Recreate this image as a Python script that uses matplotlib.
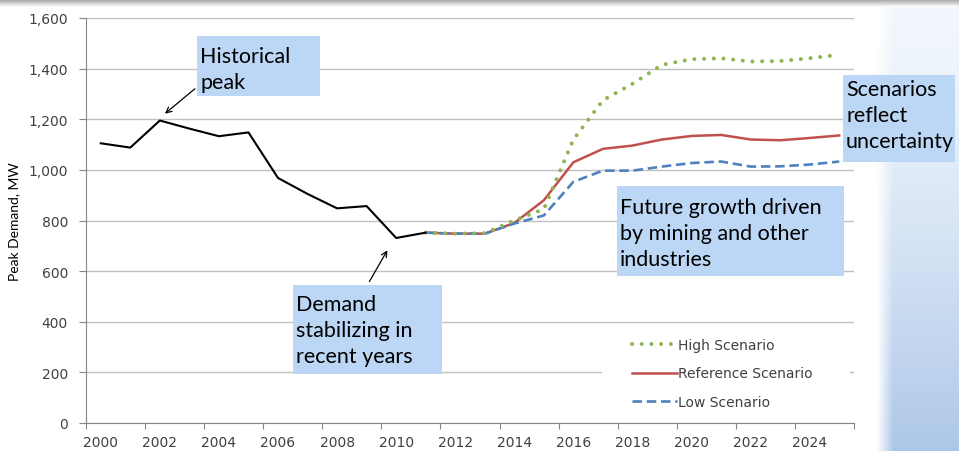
import numpy as np
import matplotlib.pyplot as plt
from matplotlib.patches import Rectangle
from matplotlib.ticker import FuncFormatter

# Данные
years_hist = list(range(2000, 2012))
hist_demand = [1105, 1088, 1195, 1163, 1133, 1148, 968, 905, 848, 857, 731, 752]

years_scen = list(range(2011, 2026))
ref_scen = [752, 748, 748, 790, 880, 1030, 1083, 1096, 1120, 1134, 1138, 1120, 1117, 1126, 1136]
low_scen = [752, 748, 748, 788, 820, 953, 997, 997, 1013, 1027, 1033, 1013, 1014, 1021, 1033]
high_scen = [752, 748, 750, 800, 845, 1120, 1275, 1340, 1415, 1437, 1441, 1428, 1430, 1441, 1455]

series_labels = ['High Scenario', 'Reference Scenario', 'Low Scenario']

W, H = 959, 452


def fx(px):
    return px / W


def fy(py):
    return 1 - py / H


fig = plt.figure(figsize=(W / 100, H / 100), dpi=100)
fig.patch.set_facecolor('white')

# фон справа (небо)
sky = fig.add_axes([fx(876), 0, 83 / W, 1], zorder=-2)
gv = np.linspace(0, 1, 200)[:, None, None] ** 1.4
gh = np.clip(np.linspace(0, 1, 40)[None, :, None] * 5, 0, 1)
top_c = np.array([0.95, 0.97, 0.99])
bot_c = np.array([0.68, 0.78, 0.91])
img = top_c * (1 - gv) + bot_c * gv
img = 1 - (1 - img) * gh
sky.imshow(img, aspect='auto', extent=[0, 1, 0, 1])
sky.axis('off')

# тень сверху
shade = fig.add_axes([0, fy(8), 1, 8 / H], zorder=-1)
g2 = np.linspace(0.62, 1.0, 50)[:, None]
shade.imshow(np.repeat(np.dstack([g2, g2, g2]), 10, axis=1), aspect='auto', extent=[0, 1, 0, 1])
shade.axis('off')

ax = fig.add_axes([fx(86), fy(424), (854 - 86) / W, (424 - 19) / H])
ax.set_facecolor('none')

ax.plot(years_scen, ref_scen, color='#C0504D', lw=1.8, label=series_labels[1], zorder=3)
ax.plot(years_scen, low_scen, color='#4F81BD', lw=1.9, linestyle=(0, (3.6, 1.8)),
        label=series_labels[2], zorder=4)
ax.plot(years_scen, high_scen, color='#8FB650', lw=2.9, linestyle=(0, (0.01, 2.4)),
        dash_capstyle='round', label=series_labels[0], zorder=5)
ax.plot(years_hist, hist_demand, color='black', lw=1.5, zorder=6)

ax.set_xlim(1999.5, 2025.5)
ax.set_ylim(0, 1600)
ax.set_yticks(range(0, 1601, 200))
ax.yaxis.set_major_formatter(FuncFormatter(lambda v, p: f'{int(v):,}'))
ax.set_xticks(np.arange(1999.5, 2026, 2))
ax.set_xticks(range(2000, 2026, 2), minor=True)
ax.set_xticklabels([])
ax.set_xticklabels([str(y) for y in range(2000, 2026, 2)], minor=True)
ax.tick_params(axis='x', which='minor', length=0, pad=9, labelsize=10, labelcolor='#404040')
ax.tick_params(axis='x', which='major', length=4, color='#868686')
ax.tick_params(axis='y', length=5, color='#868686', pad=8, labelsize=10, labelcolor='#404040')

for s in ['top', 'right']:
    ax.spines[s].set_visible(False)
for s in ['left', 'bottom']:
    ax.spines[s].set_color('#868686')
ax.grid(axis='y', color='#C0C0C0', lw=1)
ax.set_axisbelow(True)

ax.set_ylabel('Peak Demand, MW', fontsize=10, family='Lato', color='black')
ax.yaxis.set_label_coords(-0.086, 0.5)

# легенда
ax.add_patch(Rectangle((fx(602), fy(418)), (850 - 602) / W, (418 - 330) / H,
                       transform=fig.transFigure, facecolor='white', edgecolor='none', zorder=1.5))
handles, labels = ax.get_legend_handles_labels()
order = [labels.index(l) for l in series_labels]
leg = ax.legend([handles[i] for i in order], [labels[i] for i in order],
                loc='center left', bbox_to_anchor=(fx(619), fy(374.5)),
                bbox_transform=fig.transFigure, frameon=False, fontsize=10,
                handlelength=3.3, handletextpad=0.05, labelspacing=1.05)
for t in leg.get_texts():
    t.set_color('#404040')

# подписи
box_color = '#BBD7F5'
notes = [
    ('Historical\npeak', (197, 37, 320, 97), 10),
    ('Demand\nstabilizing in\nrecent years', (293, 286, 442, 375), 9),
    ('Future growth driven\nby mining and other\nindustries', (617, 187, 844, 277), 11),
    ('Scenarios\nreflect\nuncertainty', (843, 76, 955, 163), 4),
]
for txt, (x0, y0, x1, y1), dy in notes:
    fig.add_artist(Rectangle((fx(x0), fy(y1)), (x1 - x0) / W, (y1 - y0) / H,
                             transform=fig.transFigure, facecolor=box_color,
                             edgecolor='none', zorder=3))
    fig.text(fx(x0 + 3), fy(y0 + dy), txt, ha='left', va='top', fontsize=15.5,
             family='Lato', color='black', linespacing=1.37, zorder=4)

ax.annotate('', xy=(2002.1, 1215), xycoords='data',
            xytext=(fx(197), fy(88)), textcoords='figure fraction',
            arrowprops=dict(arrowstyle='->', color='black', lw=0.9), zorder=7)
ax.annotate('', xy=(2009.75, 692), xycoords='data',
            xytext=(fx(368), fy(285)), textcoords='figure fraction',
            arrowprops=dict(arrowstyle='->', color='black', lw=0.9), zorder=7)

fig.savefig('out.png', dpi=100)
plt.close(fig)
